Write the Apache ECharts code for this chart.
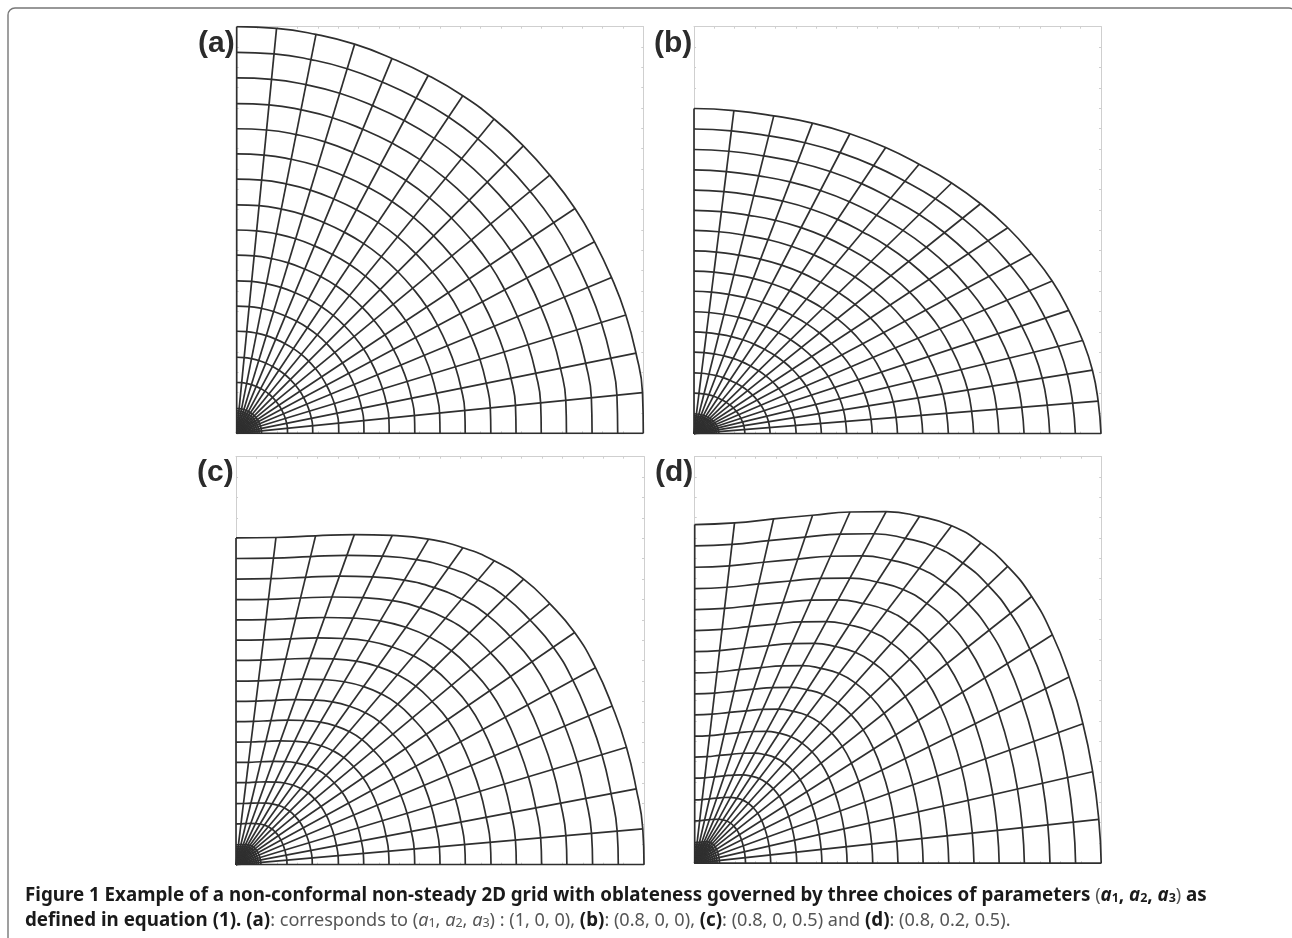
<!DOCTYPE html>
<html><head><meta charset="utf-8">
<style>html,body{margin:0;padding:0;background:#fff}#c{width:1292px;height:938px}#c canvas{filter:blur(0.45px)}</style>
<script src="https://cdn.jsdelivr.net/npm/echarts@6/dist/echarts.min.js"></script>
</head><body><div id="c"></div>
<script>
// Panel outer boundary: one value per ray, percent of frame width
const aX=[0,9.8,19.5,29.0,38.2,47.1,55.6,63.3,70.5,77.0,83.2,88.0,92.2,95.7,98.2,99.8,100];
const aY=[100,99.6,98.1,95.7,92.2,88.0,83.0,77.3,70.7,63.5,55.3,47.1,38.3,29.1,19.7,10.0,0];
const bX=[0,9.8,19.6,29.1,38.3,47.1,55.3,63.3,70.4,77.1,82.9,88.0,92.1,95.5,97.9,99.3,100];
const bY=[79.9,79.4,78.1,76.3,73.7,70.3,66.2,61.6,56.5,50.6,44.2,37.5,30.3,22.9,15.6,8.0,0];
const cX=[0,9.8,19.5,29.0,38.3,47.2,55.6,63.3,70.5,76.9,83.0,88.1,92.2,95.7,98.1,99.7,100];
const cY=[80.1,80.2,80.6,80.9,80.7,79.8,77.7,74.5,70.0,64.0,56.9,48.3,38.9,28.8,18.6,8.8,0];
const dX=[0,9.8,19.4,29.0,38.2,47.1,55.3,63.2,70.4,77.0,82.9,88.0,92.1,95.5,97.9,99.4,100];
const dY=[83.3,83.7,84.7,85.6,86.4,86.5,85.3,83.0,78.8,73.0,65.6,56.2,45.8,34.3,22.5,10.8,0];
// Ring crossings along the bottom axis, percent of frame width (dense rings form the dark core)
const ringLevels=[0.5,1,1.5,2,2.5,3,3.5,4,4.5,5,5.5,6.1,12.5,18.7,25.1,31.3,37.5,43.8,50,56.2,62.5,68.7,74.9,81.1,87.4,93.7,100];
const panelLabels=['(a)','(b)','(c)','(d)'];

const panels=[
 {xs:aX,ys:aY,left:236.7,top:26.7,size:406.6,lx:198,ly:43},
 {xs:bX,ys:bY,left:694,top:26.7,size:407,lx:654,ly:43},
 {xs:cX,ys:cY,left:236,top:456.7,size:408,lx:197,ly:472},
 {xs:dX,ys:dY,left:694.7,top:456.7,size:406.5,lx:655,ly:472}
];
const INK='#2f2f2f', FRAME='#cfcfcf';
const grid=[],xAxis=[],yAxis=[],series=[],graphic=[];
function axisCfg(gridIndex,position){
  return {type:'value',gridIndex,position,min:0,max:100,interval:5,
    axisLine:{show:true,onZero:false,lineStyle:{color:FRAME,width:1}},
    axisTick:{show:true,inside:true,length:2,lineStyle:{color:FRAME,width:1}},
    axisLabel:{show:false},splitLine:{show:false}};
}
panels.forEach((p,i)=>{
  grid.push({left:p.left,top:p.top,width:p.size,height:p.size});
  const xb=xAxis.length; xAxis.push(axisCfg(i,'bottom'),axisCfg(i,'top'));
  const yb=yAxis.length; yAxis.push(axisCfg(i,'left'),axisCfg(i,'right'));
  const base={type:'line',xAxisIndex:xb,yAxisIndex:yb,showSymbol:false,symbol:'none',silent:true,
    animation:false,lineStyle:{color:INK,width:1.7},z:3};
  p.xs.forEach((x,k)=>{
    series.push({...base,name:'ray',data:[[0,0],[x,p.ys[k]]]});
  });
  ringLevels.forEach(l=>{
    series.push({...base,name:'ring',smooth:0.5,
      data:p.xs.map((x,k)=>[x*l/100,p.ys[k]*l/100])});
  });
  graphic.push({type:'text',left:p.lx,top:p.ly-14,z:10,
    style:{text:panelLabels[i],font:'bold 30px "Liberation Sans"',fill:'#2b2b2b'}});
});
graphic.push({type:'rect',shape:{x:8,y:8,width:1288,height:1000,r:7},
  style:{fill:'none',stroke:'#777',lineWidth:1.4},z:1});
const F='Noto Sans', S=18.75, SN=18.1, SS=12.5;
const rich={
  b:{fontFamily:F,fontWeight:'bold',fontSize:S,color:'#1a1a1a'},
  n:{fontFamily:F,fontWeight:'normal',fontSize:SN,color:'#555'},
  i:{fontFamily:F,fontStyle:'italic',fontWeight:'normal',fontSize:SN,color:'#555'},
  bi:{fontFamily:F,fontStyle:'italic',fontWeight:'bold',fontSize:S,color:'#1a1a1a'},
  s:{fontFamily:F,fontWeight:'normal',fontSize:SS,color:'#555',verticalAlign:'bottom'},
  bs:{fontFamily:F,fontWeight:'bold',fontSize:SS,color:'#1a1a1a',verticalAlign:'bottom'}
};
const line1='{b|Figure 1 Example of a non-conformal non-steady 2D grid with oblateness governed by three choices of parameters }{n|(}{bi|a}{bs|1}{b|, }{bi|a}{bs|2}{b|, }{bi|a}{bs|3}{n|) }{b|as}';
const line2='{b|defined in equation (1). (a)}{n|: corresponds to (}{i|a}{s|1}{n|, }{i|a}{s|2}{n|, }{i|a}{s|3}{n|) : (1, 0, 0), }{b|(b)}{n|: (0.8, 0, 0), }{b|(c)}{n|: (0.8, 0, 0.5) and }{b|(d)}{n|: (0.8, 0.2, 0.5).}';
const title=[{text:line1,left:25,top:886,padding:0,textStyle:{fontWeight:'normal',rich}},{text:line2,left:25,top:911,padding:0,textStyle:{fontWeight:'normal',rich}}];
const chart=echarts.init(document.getElementById('c'),null,{renderer:'canvas'});
chart.setOption({animation:false,backgroundColor:'#fff',title,grid,xAxis,yAxis,series,graphic});
</script></body></html>
